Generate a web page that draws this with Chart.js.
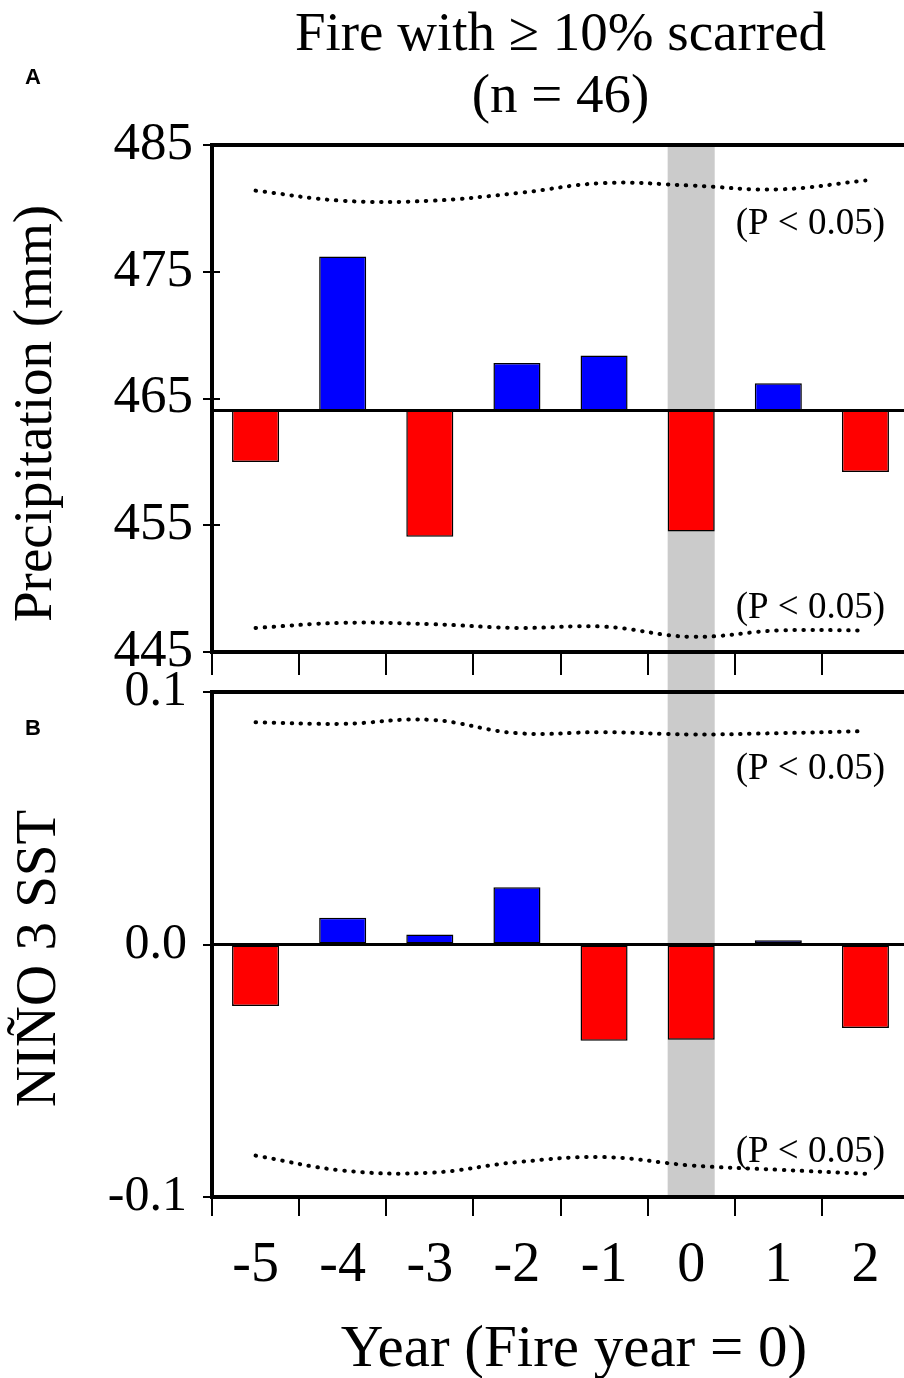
<!DOCTYPE html>
<html><head><meta charset="utf-8">
<script src="https://cdn.jsdelivr.net/npm/chart.js@4.4.1/dist/chart.umd.min.js"></script>
<style>
html,body{margin:0;padding:0;background:#fff;overflow:hidden;width:904px;height:1378px;}
#wrap{position:relative;width:904px;height:1378px;overflow:hidden;background:#fff;}
canvas{position:absolute;left:0;}
#cA{top:0;} #cB{top:640px;}
</style></head><body>
<div id="wrap"><canvas id="cA" width="920" height="680"></canvas><canvas id="cB" width="920" height="738"></canvas></div>
<script>
// ---------- data ----------
const categories = ['-5', '-4', '-3', '-2', '-1', '0', '1', '2'];
const fireYear = '0';

const precipValues = [460.0, 476.2, 454.1, 467.8, 468.4, 454.5, 466.2, 459.2];
const precipMean = 464.05;
const precipUpper = [481.4, 480.6, 480.6, 481.2, 482.0, 481.8, 481.5, 482.2];
const precipLower = [446.9, 447.3, 447.2, 446.9, 447.0, 446.2, 446.7, 446.7];
const precipTicks = [445, 455, 465, 475, 485];

const ninoValues = [-0.0244, 0.0106, 0.0040, 0.0227, -0.0381, -0.0377, 0.0017, -0.0331];
const ninoMean = 0;
const ninoUpper = [0.0880, 0.0874, 0.0890, 0.0837, 0.0841, 0.0832, 0.0837, 0.0845];
const ninoLower = [-0.0836, -0.0895, -0.0904, -0.0862, -0.0842, -0.0875, -0.0892, -0.0908];
const ninoTicks = [-0.1, 0.0, 0.1];

const titleLines = ['Fire with \u2265 10% scarred', '(n = 46)'];
const sigLabel = '(P < 0.05)';

// ---------- style ----------
const SERIF = "'Liberation Serif', 'Times New Roman', Times, serif";
const RED = '#ff0000', BLUE = '#0000ff', BAND = '#cbcbcb';

const decor = {
  id: 'decor',
  beforeDraw(chart, args, o) {
    const {ctx, chartArea} = chart;
    const meta = chart.getDatasetMeta(0);
    const el = meta.data[categories.indexOf(fireYear)];
    if (!el) return;
    const half = el.width / 2;
    const top = chartArea.top - o.bandAbove;
    const bottom = chartArea.bottom + o.bandBelow;
    ctx.save();
    ctx.fillStyle = BAND;
    ctx.fillRect(el.x - half, top, half * 2, bottom - top);
    ctx.restore();
  },
  beforeDatasetsDraw(chart, args, o) {
    const {ctx, chartArea} = chart;
    const ys = chart.scales.y;
    const y = ys.getPixelForValue(o.mean);
    ctx.save();
    ctx.strokeStyle = '#000';
    ctx.lineWidth = 3;
    ctx.beginPath();
    ctx.moveTo(chartArea.left, y);
    ctx.lineTo(chartArea.right, y);
    ctx.stroke();
    // inner stubs of the y ticks
    ctx.lineWidth = 2;
    ys.ticks.forEach(t => {
      const ty = Math.round(ys.getPixelForValue(t.value));
      ctx.beginPath();
      ctx.moveTo(chartArea.left, ty);
      ctx.lineTo(chartArea.left + 8, ty);
      ctx.stroke();
    });
    ctx.restore();
  },
  afterDraw(chart, args, o) {
    const {ctx, chartArea} = chart;
    ctx.save();
    ctx.fillStyle = '#000';
    // y axis title
    ctx.font = o.yTitleSize + 'px ' + SERIF;
    ctx.textAlign = 'center';
    ctx.textBaseline = 'alphabetic';
    ctx.translate(o.yTitleX, (chartArea.top + chartArea.bottom) / 2 + o.yTitleShift);
    ctx.rotate(-Math.PI / 2);
    ctx.fillText(o.yTitle, 0, 0);
    ctx.setTransform(1, 0, 0, 1, 0, 0);
    // panel letter
    ctx.font = "bold 22px 'Liberation Sans', Arial, sans-serif";
    ctx.textAlign = 'left';
    ctx.textBaseline = 'alphabetic';
    ctx.fillText(o.letter, 25, chartArea.top + o.letterDy);
    // significance labels
    ctx.font = '37px ' + SERIF;
    ctx.textAlign = 'right';
    ctx.textBaseline = 'middle';
    ctx.fillText(sigLabel, 885, chartArea.top + o.sigTop);
    ctx.fillText(sigLabel, 885, chartArea.bottom - o.sigBottom);
    // x axis title
    if (o.xTitle) {
      ctx.font = '59px ' + SERIF;
      ctx.textAlign = 'center';
      ctx.textBaseline = 'alphabetic';
      ctx.fillText(o.xTitle, 574, chartArea.bottom + o.xTitleDy);
    }
    ctx.restore();
  }
};

function makeChart(canvas, cfg) {
  const barColors = cfg.values.map(v => v < cfg.mean ? RED : BLUE);
  const dotted = {
    type: 'line', borderColor: '#000', borderWidth: 4,
    borderDash: [0.5, 8.5], borderCapStyle: 'round', pointRadius: 0,
    tension: 0.4, fill: false, order: 1
  };
  return new Chart(canvas, {
    type: 'bar',
    data: {
      labels: categories,
      datasets: [
        {
          type: 'bar', data: cfg.values, base: cfg.mean,
          backgroundColor: barColors, borderColor: '#000', borderWidth: 1.5,
          borderSkipped: false, barPercentage: 0.54, categoryPercentage: 1.0, order: 2
        },
        Object.assign({ data: cfg.upper }, dotted),
        Object.assign({ data: cfg.lower }, dotted)
      ]
    },
    options: {
      responsive: false, animation: false, devicePixelRatio: 1,
      layout: { padding: { left: 12, right: 11, top: cfg.padTop, bottom: 0 } },
      plugins: {
        legend: { display: false }, tooltip: { enabled: false },
        title: cfg.title ? {
          display: true, text: cfg.title, fullSize: false, color: '#000',
          font: { family: SERIF, size: 55, weight: 'normal', lineHeight: 62 / 55 },
          padding: { top: 5, bottom: 16 }
        } : { display: false },
        decor: cfg.decor
      },
      scales: {
        x: {
          type: 'category', position: 'bottom', offset: true,
          grid: { display: true, offset: true, drawOnChartArea: false, drawTicks: true,
                  tickLength: cfg.xTickLen, lineWidth: 2, color: '#000' },
          border: { display: true, width: 4, color: '#000' },
          ticks: { display: cfg.showXLabels, color: '#000', padding: 17,
                   font: { family: SERIF, size: 56 }, maxRotation: 0, autoSkip: false },
          afterFit: s => { s.height = cfg.xHeight; s.paddingLeft = 0; s.paddingRight = 0; }
        },
        x2: {
          type: 'linear', position: 'top', display: true, min: 0, max: 1,
          grid: { display: false, drawTicks: false },
          border: { display: true, width: 4, color: '#000' },
          ticks: { display: false },
          afterFit: s => { s.height = 0; s.paddingLeft = 0; s.paddingRight = 0; }
        },
        y: {
          type: 'linear', position: 'left', min: cfg.min, max: cfg.max,
          afterBuildTicks: s => { s.ticks = cfg.ticks.map(v => ({ value: v })); },
          grid: { display: true, drawOnChartArea: false, drawTicks: true, tickLength: 9,
                  lineWidth: 2, color: '#000' },
          border: { display: true, width: 4, color: '#000' },
          ticks: { color: '#000', padding: cfg.yPad, font: { family: SERIF, size: cfg.yFont },
                   callback: cfg.fmt },
          afterFit: s => { s.width = 200; s.paddingTop = 0; s.paddingBottom = 0; }
        }
      }
    },
    plugins: [decor]
  });
}

makeChart(document.getElementById('cA'), {
  values: precipValues, mean: precipMean, upper: precipUpper, lower: precipLower,
  min: 445, max: 485, ticks: precipTicks, fmt: v => String(v), yFont: 53, yPad: 10,
  title: titleLines, padTop: 0, xTickLen: 23, xHeight: 28, showXLabels: false,
  decor: { mean: precipMean, bandAbove: 0, bandBelow: 28,
           yTitle: 'Precipitation (mm)', yTitleSize: 55, yTitleX: 51, yTitleShift: 15,
           letter: 'A', letterDy: -61, sigTop: 79, sigBottom: 44 }
});

makeChart(document.getElementById('cB'), {
  values: ninoValues, mean: ninoMean, upper: ninoUpper, lower: ninoLower,
  min: -0.1, max: 0.1, ticks: ninoTicks, fmt: v => Number(v).toFixed(1), yFont: 50, yPad: 16,
  title: null, padTop: 52, xTickLen: 19, xHeight: 181, showXLabels: true,
  decor: { mean: ninoMean, bandAbove: 12, bandBelow: 0,
           yTitle: 'NI\u00d1O 3 SST', yTitleSize: 57, yTitleX: 55, yTitleShift: 14,
           letter: 'B', letterDy: 43, sigTop: 77, sigBottom: 45,
           xTitle: 'Year (Fire year = 0)', xTitleDy: 169 }
});
</script>
</body></html>
